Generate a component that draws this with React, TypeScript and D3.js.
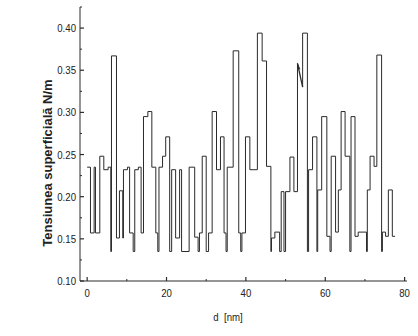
import React from "react";
import * as d3 from "d3";

// step starts (nm) and surface tension levels (N/m), first run
const stepD1 = [0, 0.84, 1.76, 2.1, 3.19, 4.2, 5.29, 5.96, 6.13, 7.39, 8.14, 8.98, 9.15, 10.16, 10.7, 11.6, 12.0, 12.9, 13.6, 14.2, 15.3, 16.3, 17.3, 17.8, 18.1, 19.0, 19.8, 20.8, 21.3, 22.3, 23.3, 23.8, 25.7, 27.1, 27.96, 28.3, 29.0, 30.0, 30.6, 31.5, 32.6, 33.6, 34.5, 35.0, 35.3, 36.8, 38.2, 38.7, 39.0, 39.9, 41.0, 42.9, 44.1, 45.2, 46.3, 46.45, 47.3, 48.5, 48.9, 49.6, 50.0, 51.1, 52.1, 53.0];
const stepV1 = [0.235, 0.157, 0.235, 0.157, 0.248, 0.232, 0.235, 0.135, 0.367, 0.151, 0.207, 0.151, 0.232, 0.235, 0.157, 0.135, 0.232, 0.235, 0.157, 0.295, 0.301, 0.235, 0.157, 0.135, 0.235, 0.248, 0.271, 0.135, 0.232, 0.151, 0.232, 0.135, 0.235, 0.152, 0.135, 0.157, 0.248, 0.135, 0.157, 0.301, 0.232, 0.271, 0.157, 0.135, 0.235, 0.373, 0.157, 0.135, 0.157, 0.271, 0.232, 0.394, 0.361, 0.236, 0.135, 0.151, 0.158, 0.135, 0.206, 0.135, 0.206, 0.247, 0.206, 0.358];
// second run, after the arrow-marked jump
const stepD2 = [54.3, 54.3, 55.5, 55.8, 56.8, 57.9, 58.1, 59.1, 60.4, 61.2, 61.5, 62.6, 63.3, 64.0, 65.0, 66.2, 66.5, 67.5, 68.3, 70.4, 70.6, 71.3, 72.3, 73.0, 74.2, 74.4, 75.2, 75.9, 76.9, 77.6];
const stepV2 = [0.33, 0.394, 0.135, 0.232, 0.271, 0.135, 0.208, 0.295, 0.153, 0.135, 0.248, 0.158, 0.208, 0.301, 0.248, 0.135, 0.295, 0.153, 0.158, 0.135, 0.208, 0.248, 0.236, 0.368, 0.135, 0.158, 0.153, 0.208, 0.153, 0.153];

const xMajor = [0, 20, 40, 60, 80];
const xMinor = [10, 30, 50, 70];
const yMajor = [0.1, 0.15, 0.2, 0.25, 0.3, 0.35, 0.4];
const yMinor = [0.125, 0.175, 0.225, 0.275, 0.325, 0.375, 0.425];

const xTitle = "d  [nm]";
const yTitle = "Tensiunea superficială N/m";

export default function App() {
  const x = d3.scaleLinear().domain([-1.8, 80.6]).range([80, 407]);
  const y = d3.scaleLinear().domain([0.1, 0.425]).range([281, 7]);
  const line = d3
    .line<[number, number]>()
    .x((d) => x(d[0]))
    .y((d) => y(d[1]))
    .curve(d3.curveStepAfter);
  const pts1: [number, number][] = stepD1.map((d, i) => [d, stepV1[i]]);
  const pts2: [number, number][] = stepD2.map((d, i) => [d, stepV2[i]]);
  const a0 = pts1[pts1.length - 1];
  const a1 = pts2[0];
  const stroke = "#2a2a2a";
  const font = "'Liberation Sans', Arial, sans-serif";
  const sx = 0.84;
  return (
    <svg
      width={418}
      height={336}
      style={{ position: "absolute", left: 0, top: 0, background: "#fff" }}
    >
      <rect width={418} height={336} fill="#fff" />
      {/* axes */}
      <line x1={80} x2={80} y1={7} y2={281} stroke={stroke} strokeWidth={1} />
      <line x1={80} x2={407} y1={281} y2={281} stroke={stroke} strokeWidth={1} />
      {yMajor.map((v) => (
        <line key={"ym" + v} x1={80} x2={84} y1={y(v)} y2={y(v)} stroke={stroke} strokeWidth={1.2} />
      ))}
      {yMinor.map((v) => (
        <line key={"yn" + v} x1={80} x2={82} y1={y(v)} y2={y(v)} stroke={stroke} strokeWidth={1} />
      ))}
      {xMajor.map((v) => (
        <line key={"xm" + v} x1={x(v)} x2={x(v)} y1={281} y2={277} stroke={stroke} strokeWidth={1.2} />
      ))}
      {xMinor.map((v) => (
        <line key={"xn" + v} x1={x(v)} x2={x(v)} y1={281} y2={279} stroke={stroke} strokeWidth={1} />
      ))}
      {yMajor.map((v) => (
        <g key={"yl" + v} transform={`translate(76,${y(v) + 4}) scale(${sx},1)`}>
          <text textAnchor="end" fontFamily={font} fontSize={11.5} fill="#222">
            {v.toFixed(2)}
          </text>
        </g>
      ))}
      {xMajor.map((v) => (
        <g key={"xl" + v} transform={`translate(${x(v)},297) scale(${sx},1)`}>
          <text textAnchor="middle" fontFamily={font} fontSize={11.5} fill="#222">
            {v}
          </text>
        </g>
      ))}
      <g transform={`translate(228,321) scale(${sx},1)`}>
        <text textAnchor="middle" fontFamily={font} fontSize={11.5} fill="#222" xmlSpace="preserve" style={{ whiteSpace: "pre" }}>
          {xTitle}
        </text>
      </g>
      <g transform={`translate(52,163) rotate(-90)`}>
        <text textAnchor="middle" fontFamily={font} fontSize={13} fontWeight="bold" fill="#222">
          {yTitle}
        </text>
      </g>
      {/* data */}
      <path d={line(pts1) || ""} fill="none" stroke={stroke} strokeWidth={1} />
      <path d={line(pts2) || ""} fill="none" stroke={stroke} strokeWidth={1} />
      <line x1={x(a0[0])} y1={y(a0[1])} x2={x(a1[0])} y2={y(a1[1])} stroke={stroke} strokeWidth={1.3} />
      <path
        d={`M${x(a0[0])},${y(a0[1]) - 1} L${x(a0[0]) + 3},${y(a0[1]) + 6} L${x(a0[0]) + 0.5},${y(a0[1]) + 5} Z`}
        fill={stroke}
      />
    </svg>
  );
}
